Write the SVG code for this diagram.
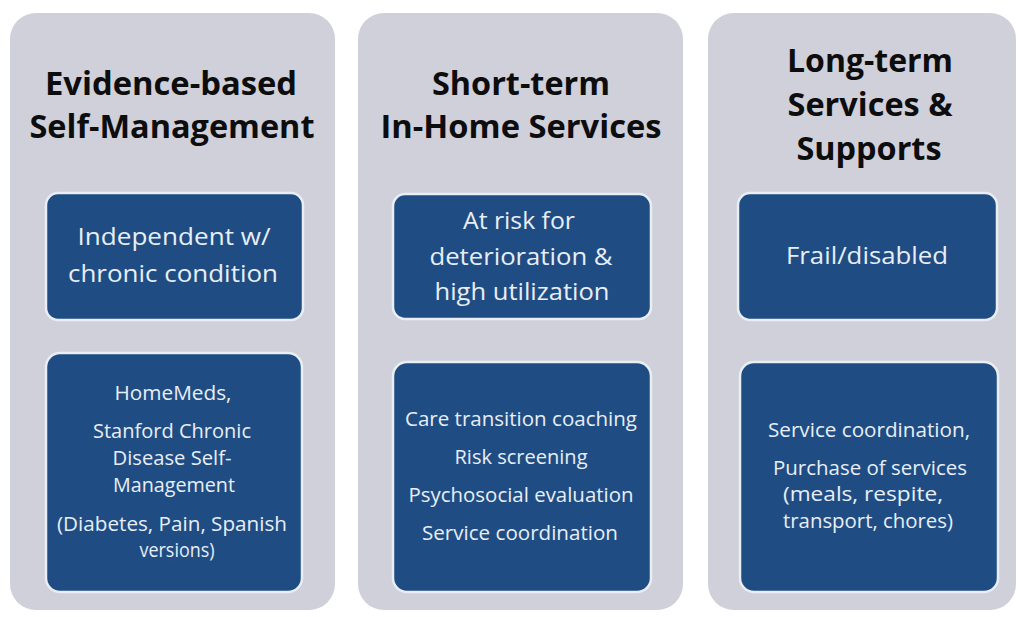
<svg xmlns="http://www.w3.org/2000/svg" width="1018" height="617" viewBox="0 0 1018 617">
<style>
.panel{fill:#cfd0da;}
.box{fill:#1f4d83;stroke:#e9eef4;stroke-width:2.5;}
.title{font-family:"Open Sans","Liberation Sans",sans-serif;font-weight:bold;font-size:33px;fill:#0d0d0d;text-anchor:middle;}
.t1{font-family:"Open Sans","Liberation Sans",sans-serif;font-size:24.5px;fill:#e8eef6;text-anchor:middle;}
.t2{font-family:"Open Sans","Liberation Sans",sans-serif;font-size:20px;fill:#e8eef6;text-anchor:middle;}
</style>
<rect width="1018" height="617" fill="#ffffff"/>
<g id="col-self-management">
<rect class="panel" x="10" y="13" width="325" height="597" rx="26"/>
<text class="title" x="171" y="95" textLength="252" lengthAdjust="spacingAndGlyphs">Evidence-based</text>
<text class="title" x="172" y="138" textLength="285" lengthAdjust="spacingAndGlyphs">Self-Management</text>
</g>
<g id="node-independent">
<rect class="box" x="46" y="193" width="257" height="127" rx="12"/>
<text class="t1" x="174" y="245" textLength="193" lengthAdjust="spacingAndGlyphs">Independent w/</text>
<text class="t1" x="173" y="282" textLength="210" lengthAdjust="spacingAndGlyphs">chronic condition</text>
</g>
<g id="node-homemeds">
<rect class="box" x="46" y="353" width="256" height="239" rx="14"/>
<text class="t2" x="173" y="400" textLength="117" lengthAdjust="spacingAndGlyphs">HomeMeds,</text>
<text class="t2" x="172" y="438" textLength="158" lengthAdjust="spacingAndGlyphs">Stanford Chronic</text>
<text class="t2" x="172" y="465" textLength="119" lengthAdjust="spacingAndGlyphs">Disease Self-</text>
<text class="t2" x="174" y="492" textLength="122" lengthAdjust="spacingAndGlyphs">Management</text>
<text class="t2" x="172" y="531" textLength="230" lengthAdjust="spacingAndGlyphs">(Diabetes, Pain, Spanish</text>
<text class="t2" x="177" y="557" textLength="75" lengthAdjust="spacingAndGlyphs">versions)</text>
</g>
<g id="col-short-term">
<rect class="panel" x="358" y="13" width="325" height="597" rx="26"/>
<text class="title" x="521" y="95" textLength="178" lengthAdjust="spacingAndGlyphs">Short-term</text>
<text class="title" x="521" y="138" textLength="281" lengthAdjust="spacingAndGlyphs">In-Home Services</text>
</g>
<g id="node-at-risk">
<rect class="box" x="393" y="194" width="258" height="125" rx="12"/>
<text class="t1" x="519" y="229" textLength="112" lengthAdjust="spacingAndGlyphs">At risk for</text>
<text class="t1" x="521" y="265" textLength="183" lengthAdjust="spacingAndGlyphs">deterioration &amp;</text>
<text class="t1" x="522" y="300" textLength="175" lengthAdjust="spacingAndGlyphs">high utilization</text>
</g>
<g id="node-care-transition">
<rect class="box" x="393" y="362" width="258" height="230" rx="14"/>
<text class="t2" x="521" y="426" textLength="232" lengthAdjust="spacingAndGlyphs">Care transition coaching</text>
<text class="t2" x="521" y="464" textLength="133" lengthAdjust="spacingAndGlyphs">Risk screening</text>
<text class="t2" x="521" y="502" textLength="225" lengthAdjust="spacingAndGlyphs">Psychosocial evaluation</text>
<text class="t2" x="520" y="540" textLength="196" lengthAdjust="spacingAndGlyphs">Service coordination</text>
</g>
<g id="col-long-term">
<rect class="panel" x="708" y="13" width="308" height="597" rx="26"/>
<text class="title" x="870" y="72" textLength="166" lengthAdjust="spacingAndGlyphs">Long-term</text>
<text class="title" x="870" y="116" textLength="165" lengthAdjust="spacingAndGlyphs">Services &amp;</text>
<text class="title" x="869" y="160" textLength="145" lengthAdjust="spacingAndGlyphs">Supports</text>
</g>
<g id="node-frail">
<rect class="box" x="738" y="193" width="259" height="127" rx="12"/>
<text class="t1" x="867" y="264" textLength="162" lengthAdjust="spacingAndGlyphs">Frail/disabled</text>
</g>
<g id="node-service-coordination">
<rect class="box" x="740" y="362" width="258" height="230" rx="14"/>
<text class="t2" x="869" y="437" textLength="202" lengthAdjust="spacingAndGlyphs">Service coordination,</text>
<text class="t2" x="870" y="475" textLength="194" lengthAdjust="spacingAndGlyphs">Purchase of services</text>
<text class="t2" x="863" y="501" textLength="160" lengthAdjust="spacingAndGlyphs">(meals, respite,</text>
<text class="t2" x="868" y="528" textLength="170" lengthAdjust="spacingAndGlyphs">transport, chores)</text>
</g>
<g id="connectors"></g>
</svg>
